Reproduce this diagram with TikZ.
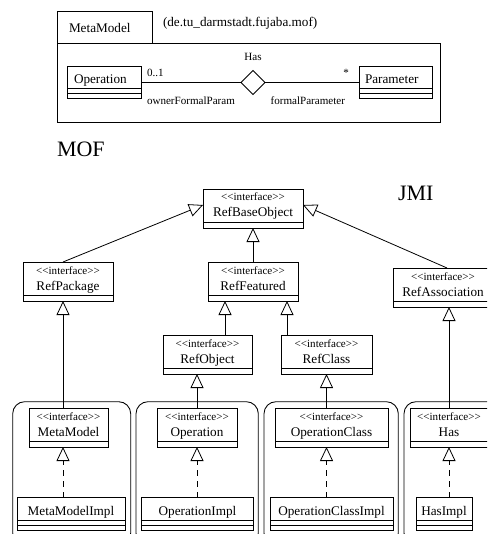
\documentclass[tikz,border=0pt]{standalone}
\usepackage{fontspec}
\setmainfont{Liberation Serif}
\usetikzlibrary{arrows.meta,shapes.geometric}
\def\upx{0.75pt}
\tikzset{
  every node/.style={inner sep=0pt, outer sep=0pt},
  uml/.style={draw, rectangle, line width=0.65pt, anchor=north west, minimum height=39*\upx},
  ifbox/.style={uml, path picture={
      \draw[line width=1.2pt] ([yshift=5.5*\upx]path picture bounding box.south west)
        -- ([yshift=5.5*\upx]path picture bounding box.south east);}},
  clsbox/.style={uml, path picture={
      \draw[line width=0.65pt] ([yshift=5*\upx]path picture bounding box.south west)
        -- ([yshift=5*\upx]path picture bounding box.south east);
      \draw[line width=0.65pt] ([yshift=10*\upx]path picture bounding box.south west)
        -- ([yshift=10*\upx]path picture bounding box.south east);}},
  stereo/.style={font=\fontsize{8.3}{10}\selectfont, anchor=base},
  cname/.style={font=\fontsize{9.9}{12}\selectfont, anchor=base},
  small/.style={font=\fontsize{8.3}{10}\selectfont},
  big/.style={font=\fontsize{16.5}{20}\selectfont, anchor=base west},
  grp/.style={draw, line width=0.65pt, rounded corners=9pt},
  gen/.style={line width=0.6pt, -{Triangle[open, length=10.5pt, width=9.75pt]}},
  real/.style={gen, dash pattern=on 4.5pt off 3.75pt},
  assoc/.style={line width=0.75pt},
}
% interface box: name, left, top, width, class name
\newcommand\ifacebox[5]{%
  \node[ifbox, minimum width=#4*\upx] (#1) at (#2,#3) {};
  \node[stereo] (#1-st) at ([yshift=-12*\upx]#1.north) {<\kern0pt<interface>\kern0pt>};
  \node[cname] (#1-nm) at ([yshift=-28*\upx]#1.north) {#5};}
% implementation class box: name, left, top, width, class name
\newcommand\implbox[5]{%
  \node[clsbox, minimum width=#4*\upx, minimum height=32.5*\upx] (#1) at (#2,#3) {};
  \node[cname] (#1-nm) at ([yshift=-18*\upx]#1.north) {#5};}

\begin{document}
\begin{tikzpicture}[x=0.75pt, y=-0.75pt]
\useasboundingbox (0,0) rectangle (487,534);
\clip (0,0) rectangle (487,534);

% ---- MOF package MetaModel ----
\node[uml, minimum width=95*\upx, minimum height=32*\upx] (tab) at (57,11) {};
\node[uml, minimum width=383*\upx, minimum height=79*\upx] (pkg) at (57,43) {};
\node[cname, anchor=base west] (tab-nm) at (69,33) {MetaModel};
\node[cname, anchor=base west] (pkg-path) at (163,27) {(de.tu\_darmstadt.fujaba.mof)};

\node[clsbox, minimum width=73.5*\upx, minimum height=31.5*\upx] (opb) at (67.5,66.75) {};
\node[cname, anchor=base west] (opb-nm) at (74,83.3) {Operation};
\node[clsbox, minimum width=73*\upx, minimum height=31.5*\upx] (parb) at (359,66.75) {};
\node[cname, anchor=base west] (parb-nm) at (365,83.3) {Parameter};

\node[draw, diamond, aspect=1, line width=0.65pt, minimum width=24*\upx, minimum height=24*\upx] (dia) at (253,82.5) {};
\draw[assoc] (opb.east) -- (dia.west);
\draw[assoc] (dia.east) -- (parb.west);

\node[small, anchor=base] (has-lbl) at (253,60.5) {Has};
\node[small, anchor=base west] (mult-a) at (147,77) {0..1};
\node[small, anchor=base east] (mult-b) at (349,77) {*};
\node[small, anchor=base west] (role-a) at (147,104.5) {ownerFormalParam};
\node[small, anchor=base east] (role-b) at (345,104.5) {formalParameter};

% ---- headings ----
\node[big] (mof) at (57,156.5) {MOF};
\node[big] (jmi) at (398,201) {JMI};

% ---- JMI reflective interfaces ----
\ifacebox{rbo}{203}{189}{100}{RefBaseObject}
\ifacebox{rpkg}{23}{262}{90}{RefPackage}
\ifacebox{rfeat}{208}{262}{90}{RefFeatured}
\ifacebox{rassoc}{393}{268}{100}{RefAssociation}
\ifacebox{robj}{163}{335}{89}{RefObject}
\ifacebox{rclass}{281}{335}{91}{RefClass}

% ---- generated groups ----
\draw[grp] (12.7,401.7) rectangle (130.7,545);
\draw[grp] (136,401.7) rectangle (258.3,545);
\draw[grp] (264,401.7) rectangle (398.3,545);
\draw[grp] (404,401.7) rectangle (520,545);

\ifacebox{mm}{29}{408}{79}{MetaModel}
\ifacebox{op}{157}{408}{80}{Operation}
\ifacebox{opc}{275}{408}{113}{OperationClass}
\ifacebox{has}{410}{408}{78}{Has}

\implbox{mmi}{17}{497.5}{108}{MetaModelImpl}
\implbox{opi}{141.5}{497.5}{112}{OperationImpl}
\implbox{opci}{270}{497.5}{123}{OperationClassImpl}
\implbox{hasi}{416}{497.5}{56}{HasImpl}

% ---- generalizations ----
\draw[gen] ([xshift=-5*\upx]rpkg.north) -- ([yshift=3.5*\upx]rbo.west);
\draw[gen] ([xshift=4*\upx]rassoc.north) -- ([yshift=3.5*\upx]rbo.east);
\draw[gen] (rfeat.north) -- (rbo.south);
\draw[gen] ([xshift=17.5*\upx]robj.north) -- ([xshift=-28*\upx]rfeat.south);
\draw[gen] ([xshift=-39.5*\upx]rclass.north) -- ([xshift=34*\upx]rfeat.south);
\draw[gen] ([xshift=-5.5*\upx]mm.north) -- ([xshift=-5*\upx]rpkg.south);
\draw[gen] (op.north) -- ([xshift=-10.5*\upx]robj.south);
\draw[gen] ([xshift=-5*\upx]opc.north) -- (rclass.south);
\draw[gen] (has.north) -- ([xshift=6*\upx]rassoc.south);

% ---- realizations ----
\draw[real] ([xshift=-8*\upx]mmi.north) -- ([xshift=-5.5*\upx]mm.south);
\draw[real] ([xshift=-0.5*\upx]opi.north) -- (op.south);
\draw[real] ([xshift=-5*\upx]opci.north) -- ([xshift=-5*\upx]opc.south);
\draw[real] ([xshift=5*\upx]hasi.north) -- (has.south);
\end{tikzpicture}
\end{document}
